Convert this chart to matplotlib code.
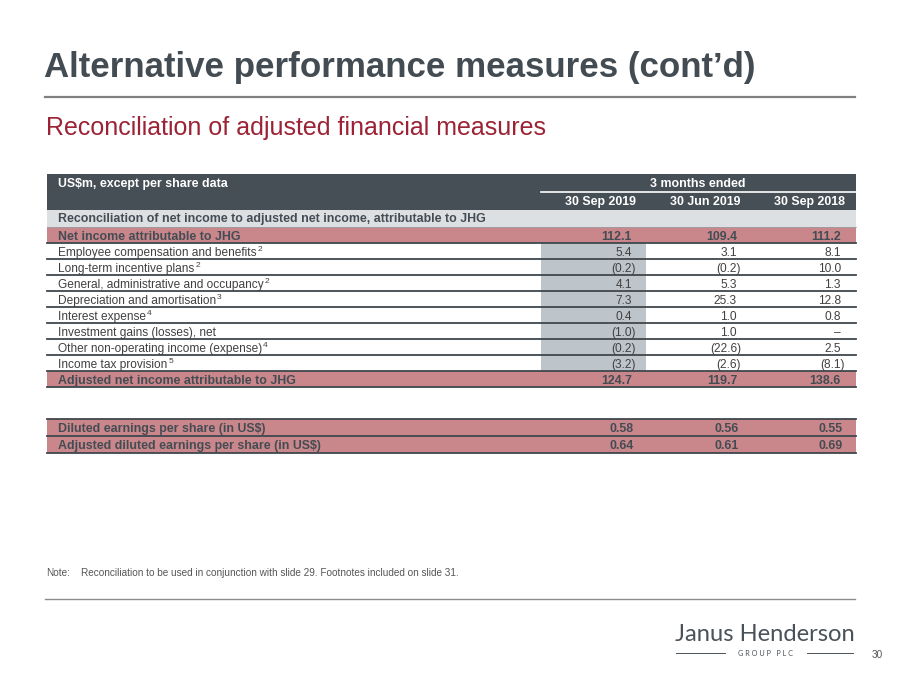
import matplotlib
matplotlib.use("Agg")
import matplotlib.pyplot as plt
from matplotlib.patches import Rectangle

plt.rcParams["font.family"] = ["Liberation Sans", "DejaVu Sans"]

# table data
col_headers = ["30 Sep 2019", "30 Jun 2019", "30 Sep 2018"]
row_labels = [
    "Net income attributable to JHG",
    "Employee compensation and benefits",
    "Long-term incentive plans",
    "General, administrative and occupancy",
    "Depreciation and amortisation",
    "Interest expense",
    "Investment gains (losses), net",
    "Other non-operating income (expense)",
    "Income tax provision",
    "Adjusted net income attributable to JHG",
]
footnotes = ["", "2", "2", "2", "3", "4", "", "4", "5", ""]
sep_2019 = [112.1, 5.4, -0.2, 4.1, 7.3, 0.4, -1.0, -0.2, -3.2, 124.7]
jun_2019 = [109.4, 3.1, -0.2, 5.3, 25.3, 1.0, 1.0, -22.6, -2.6, 119.7]
sep_2018 = [111.2, 8.1, 10.0, 1.3, 12.8, 0.8, None, 2.5, -8.1, 138.6]

eps_labels = ["Diluted earnings per share (in US$)",
              "Adjusted diluted earnings per share (in US$)"]
eps_sep_2019 = [0.58, 0.64]
eps_jun_2019 = [0.56, 0.61]
eps_sep_2018 = [0.55, 0.69]

# colours
DARK = "#464f56"
LIGHT = "#dde0e3"
PINK = "#c9878c"
GREYCOL = "#bdc5cb"
LINE = "#3f474d"
TXT = "#404040"
BTXT = "#444c53"
RED = "#9b2335"


def fmt(v, nd=1):
    if v is None:
        return "\u2013", False
    if v < 0:
        return f"({abs(v):.{nd}f})", True
    return f"{v:.{nd}f}", False


fig = plt.figure(figsize=(9, 6.75), dpi=100)
ax = fig.add_axes([0, 0, 1, 1])
ax.set_xlim(0, 900)
ax.set_ylim(675, 0)
ax.axis("off")
renderer = fig.canvas.get_renderer()

# titles
ax.text(44, 77, "Alternative performance measures (cont\u2019d)", fontsize=25.1,
        fontweight="bold", color="#434c53", va="baseline")
ax.plot([45, 855], [97, 97], color="#7f8082", lw=1.6)
ax.text(46, 135.5, "Reconciliation of adjusted financial measures", fontsize=18,
        color=RED, va="baseline")

L, R = 47, 856
col_x = [632, 737, 841]
fs = 8.6
fsb = 8.9

# header band
ax.add_patch(Rectangle((L, 174), R - L, 36, color=DARK, lw=0))
ax.text(58, 184, "US$m, except per share data", color="white", fontsize=fsb,
        fontweight="bold", va="center")
ax.text(698, 184, "3 months ended", color="white", fontsize=fsb,
        fontweight="bold", va="center", ha="center")
ax.plot([541, R], [192, 192], color="white", lw=1.2)
for x, h in zip(col_x, col_headers):
    ax.text(x + 4, 202, h, color="white", fontsize=fsb, fontweight="bold",
            va="center", ha="right")

# section row
ax.add_patch(Rectangle((L, 210), R - L, 17, color=LIGHT, lw=0))
ax.text(58, 219, "Reconciliation of net income to adjusted net income, attributable to JHG",
        color=BTXT, fontsize=fsb, fontweight="bold", va="center")

row_h = 16
top = 227
n = len(row_labels)
# shaded first column for adjustment rows
ax.add_patch(Rectangle((541, top + row_h), 105, row_h * (n - 2), color=GREYCOL, lw=0))

for i, lab in enumerate(row_labels):
    y0 = top + i * row_h
    bold = i == 0 or i == n - 1
    if bold:
        ax.add_patch(Rectangle((L, y0), R - L, row_h, color=PINK, lw=0))
    yb = y0 + row_h - 3
    t = ax.text(58, yb, lab, fontsize=fsb if bold else fs,
                color=BTXT if bold else TXT,
                fontweight="bold" if bold else "normal", va="baseline")
    if footnotes[i]:
        bb = t.get_window_extent(renderer).transformed(ax.transData.inverted())
        ax.text(bb.x1 + 1, y0 + 6.5, footnotes[i], fontsize=6, color=TXT,
                va="center", ha="left")
    for x, vals in zip(col_x, [sep_2019, jun_2019, sep_2018]):
        s, neg = fmt(vals[i])
        ax.text(x + (4 if neg else 0), yb, s, fontsize=fsb if bold else fs,
                color=BTXT if bold else TXT,
                fontweight="bold" if bold else "normal", va="baseline", ha="right")
    ax.plot([L, R], [y0 + row_h, y0 + row_h], color=LINE, lw=1.3)
ax.plot([L, R], [top, top], color="#9aa0a5", lw=0.6)

# eps rows
eps_top = 419
ax.plot([L, R], [eps_top, eps_top], color=LINE, lw=1.3)
for i, lab in enumerate(eps_labels):
    y0 = eps_top + i * 17
    ax.add_patch(Rectangle((L, y0), R - L, 17, color=PINK, lw=0))
    yb = y0 + 13
    ax.text(58, yb, lab, fontsize=fsb, color=BTXT, fontweight="bold", va="baseline")
    for x, vals in zip(col_x, [eps_sep_2019, eps_jun_2019, eps_sep_2018]):
        s, _ = fmt(vals[i], 2)
        ax.text(x + 2, yb, s, fontsize=fsb, color=BTXT, fontweight="bold",
                va="baseline", ha="right")
    ax.plot([L, R], [y0 + 17, y0 + 17], color=LINE, lw=1.3)

# note and footer
ax.text(46, 573, "Note:", fontsize=7.2, color="#555555", va="center")
ax.text(81, 573, "Reconciliation to be used in conjunction with slide 29. "
        "Footnotes included on slide 31.", fontsize=7.2, color="#555555", va="center")
ax.plot([45, 855], [599, 599], color="#8c8c8c", lw=1.0)

ax.text(675, 641, "Janus Henderson", fontsize=17.1, family="Lato", color="#4a5259",
        va="baseline")
ax.text(766, 653, "G R O U P   P L C", fontsize=5.2, family="Lato", color="#4a5259",
        va="center", ha="center")
ax.plot([676, 725], [653, 653], color="#4a5259", lw=0.7)
ax.plot([807, 853], [653, 653], color="#4a5259", lw=0.7)
ax.text(877, 655, "30", fontsize=7.2, color="#555555", va="center", ha="center")

fig.savefig("out.png", dpi=100)
